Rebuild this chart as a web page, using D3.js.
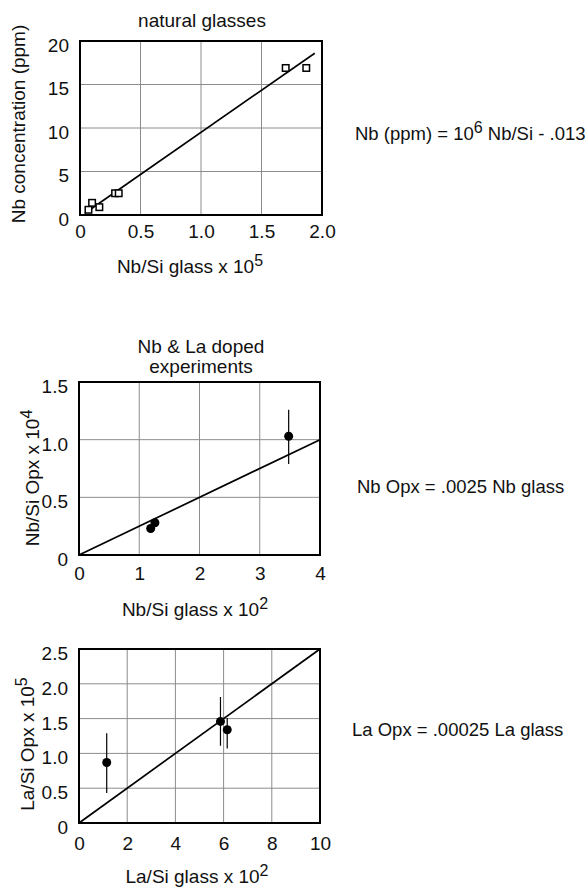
<!DOCTYPE html>
<html>
<head>
<meta charset="utf-8">
<script src="https://cdn.jsdelivr.net/npm/d3@7"></script>
<style>
  html, body { margin: 0; padding: 0; background: #fff; }
  svg { display: block; }
</style>
</head>
<body>
<div id="chart"></div>
<script>
// natural glasses (open squares)
const natX = [0.07, 0.10, 0.16, 0.29, 0.32, 1.70, 1.87];
const natY = [0.6, 1.4, 0.9, 2.5, 2.5, 16.9, 16.9];
const natFitX = [0.04, 1.94];
const natFitY = [0.2, 18.6];

// Nb doped experiments
const nbX = [1.19, 1.26, 3.48];
const nbY = [0.23, 0.28, 1.03];
const nbLo = [null, null, 0.79];
const nbHi = [null, null, 1.26];
const nbFitX = [0, 4];
const nbFitY = [0, 1.0];

// La doped experiments
const laX = [1.15, 5.87, 6.15];
const laY = [0.87, 1.46, 1.34];
const laLo = [0.43, 1.11, 1.07];
const laHi = [1.29, 1.81, 1.51];
const laFitX = [0, 10];
const laFitY = [0, 2.5];

// tick labels
const ticks1X = [0, 0.5, 1.0, 1.5, 2.0];
const ticks1Y = [0, 5, 10, 15, 20];
const ticks2X = [0, 1, 2, 3, 4];
const ticks2Y = [0, 0.5, 1.0, 1.5];
const ticks3X = [0, 2, 4, 6, 8, 10];
const ticks3Y = [0, 0.5, 1.0, 1.5, 2.0, 2.5];

const FONT = '"Liberation Sans", Helvetica, Arial, sans-serif';
const FS = 19;
const W = 587, H = 887;

const svg = d3.select('#chart').append('svg')
    .attr('width', W).attr('height', H)
    .style('font-family', FONT);

const dec = d => d === 0 ? '0' : d.toFixed(1);
const int = d3.format('d');

// text with an optional superscript
function label(parent, x, y, main, sup, rotate, anchor) {
    const t = parent.append('text')
        .attr('text-anchor', anchor || 'middle')
        .attr('font-size', FS)
        .attr('fill', '#111');
    if (rotate) t.attr('transform', `translate(${x},${y}) rotate(-90)`);
    else t.attr('x', x).attr('y', y);
    t.append('tspan').text(main);
    if (sup) t.append('tspan').attr('dy', -7).attr('font-size', 16).text(sup);
    return t;
}

function panel(cfg) {
    const w = cfg.x1 - cfg.x0, h = cfg.y1 - cfg.y0;
    const g = svg.append('g').attr('transform', `translate(${cfg.x0},${cfg.y0})`);
    const x = d3.scaleLinear().domain(d3.extent(cfg.xTicks)).range([0, w]);
    const y = d3.scaleLinear().domain(d3.extent(cfg.yTicks)).range([h, 0]);

    // grid
    g.append('g').selectAll('line').data(cfg.xTicks.slice(1, -1)).join('line')
        .attr('x1', d => x(d)).attr('x2', d => x(d))
        .attr('y1', 0).attr('y2', h)
        .attr('stroke', '#8c8c8c').attr('stroke-width', 1);
    g.append('g').selectAll('line').data(cfg.yTicks.slice(1, -1)).join('line')
        .attr('y1', d => y(d)).attr('y2', d => y(d))
        .attr('x1', 0).attr('x2', w)
        .attr('stroke', '#8c8c8c').attr('stroke-width', 1);

    // axes (labels only, the frame is drawn below)
    const ax = g.append('g').attr('transform', `translate(0,${h})`)
        .call(d3.axisBottom(x).tickValues(cfg.xTicks).tickFormat(cfg.xFmt).tickSize(0).tickPadding(cfg.xPad));
    const ay = g.append('g')
        .call(d3.axisLeft(y).tickValues(cfg.yTicks).tickFormat(cfg.yFmt).tickSize(0).tickPadding(11));
    [ax, ay].forEach(a => {
        a.select('.domain').remove();
        a.attr('font-family', FONT).attr('font-size', FS);
        a.selectAll('text').attr('fill', '#111');
    });
    ay.selectAll('text').attr('dy', '0.55em');

    // fit line
    const fit = d3.line().x(d => x(d[0])).y(d => y(d[1]));
    g.append('path')
        .datum(cfg.fitX.map((v, i) => [v, cfg.fitY[i]]))
        .attr('d', fit)
        .attr('fill', 'none').attr('stroke', '#000').attr('stroke-width', 1.7);

    const pts = cfg.px.map((v, i) => ({ x: v, y: cfg.py[i], lo: cfg.lo ? cfg.lo[i] : null, hi: cfg.hi ? cfg.hi[i] : null }));

    // error bars
    g.append('g').selectAll('line').data(pts.filter(d => d.lo != null)).join('line')
        .attr('x1', d => x(d.x)).attr('x2', d => x(d.x))
        .attr('y1', d => y(d.lo)).attr('y2', d => y(d.hi))
        .attr('stroke', '#000').attr('stroke-width', 1.2);

    if (cfg.square) {
        g.append('g').selectAll('rect').data(pts).join('rect')
            .attr('x', d => x(d.x) - 3.25).attr('y', d => y(d.y) - 3.25)
            .attr('width', 6.5).attr('height', 6.5)
            .attr('fill', '#fff').attr('stroke', '#000').attr('stroke-width', 1.5);
    } else {
        g.append('g').selectAll('circle').data(pts).join('circle')
            .attr('cx', d => x(d.x)).attr('cy', d => y(d.y)).attr('r', 4.5)
            .attr('fill', '#000');
    }

    // frame
    g.append('rect').attr('width', w).attr('height', h)
        .attr('fill', 'none').attr('stroke', '#000').attr('stroke-width', 2);
}

panel({ x0: 80, x1: 322, y0: 41, y1: 215, xTicks: ticks1X, yTicks: ticks1Y, xFmt: dec, yFmt: int, xPad: 10,
    px: natX, py: natY, fitX: natFitX, fitY: natFitY, square: true });
panel({ x0: 79, x1: 320, y0: 382, y1: 555, xTicks: ticks2X, yTicks: ticks2Y, xFmt: int, yFmt: dec, xPad: 12,
    px: nbX, py: nbY, lo: nbLo, hi: nbHi, fitX: nbFitX, fitY: nbFitY });
panel({ x0: 79, x1: 320, y0: 649, y1: 823, xTicks: ticks3X, yTicks: ticks3Y, xFmt: int, yFmt: dec, xPad: 14,
    px: laX, py: laY, lo: laLo, hi: laHi, fitX: laFitX, fitY: laFitY });

// titles and axis titles
label(svg, 202, 27, 'natural glasses');
label(svg, 190, 273, 'Nb/Si glass x 10', '5');
label(svg, 25, 124, 'Nb concentration (ppm)', null, true);

label(svg, 201, 353, 'Nb & La doped');
label(svg, 201, 373, 'experiments');
label(svg, 195, 616, 'Nb/Si glass x 10', '2');
label(svg, 39, 478, 'Nb/Si Opx x 10', '4', true);

label(svg, 197, 883, 'La/Si glass x 10', '2');
label(svg, 34, 744, 'La/Si Opx x 10', '5', true);

// equations on the right
const eq1 = svg.append('text').attr('x', 355).attr('y', 140).attr('font-size', 18.5).attr('fill', '#111');
eq1.append('tspan').text('Nb (ppm) = 10');
eq1.append('tspan').attr('dy', -7).attr('font-size', 16).text('6');
eq1.append('tspan').attr('dy', 7).text(' Nb/Si - .013');

svg.append('text').attr('x', 357).attr('y', 493).attr('font-size', 18.5).attr('fill', '#111')
    .text('Nb Opx = .0025 Nb glass');
svg.append('text').attr('x', 352).attr('y', 736).attr('font-size', 18.5).attr('fill', '#111')
    .text('La Opx = .00025 La glass');
</script>
</body>
</html>
